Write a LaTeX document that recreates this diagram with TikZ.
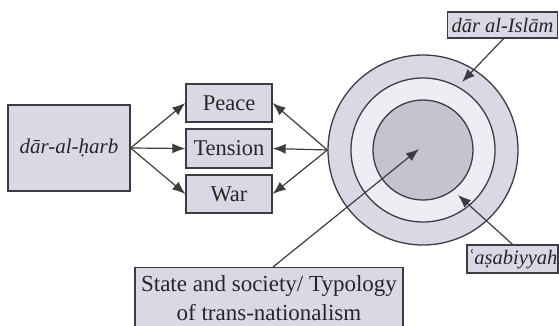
\documentclass[tikz,border=0pt]{standalone}
\usepackage{fontspec}
\setmainfont{Liberation Serif}
\usetikzlibrary{arrows.meta}
\definecolor{boxfill}{HTML}{D9D9E6}
\definecolor{ringmid}{HTML}{EDEDF3}
\definecolor{ringin}{HTML}{C4C4CE}
\definecolor{edge}{HTML}{3C3C42}
\begin{document}
\begin{tikzpicture}[x=1pt,y=-1pt,
  box/.style={draw=edge,line width=1.3pt,fill=boxfill,rectangle,inner sep=0pt,
    font=\fontsize{22.5}{29}\selectfont,text=black!85},
  itbox/.style={box,font=\fontsize{20.5}{26}\selectfont\itshape},
  ring/.style={draw=edge,line width=1.3pt,circle,inner sep=0pt},
  arr/.style={draw=edge,line width=1.2pt,-{Latex[length=13pt,width=10pt]}}]
\useasboundingbox (0,0) rectangle (559,325);
% circles
\node[ring,fill=boxfill,minimum size=190] (outer) at (423,150) {};
\node[ring,fill=ringmid,minimum size=144] (mid) at (423,150) {};
\node[ring,fill=ringin,minimum size=100] (inner) at (423,150) {};
\coordinate (ctr) at (419,149);
% boxes
\node[itbox,font=\fontsize{21}{26}\selectfont\itshape,minimum width=122,minimum height=86] (harb) at (69,148) {dār-al-ḥarb};
\node[box,minimum width=86,minimum height=38] (peace) at (229,103) {Peace};
\node[box,minimum width=86,minimum height=39] (tension) at (229,148.5) {Tension};
\node[box,minimum width=86,minimum height=38] (war) at (229,194) {War};
\node[itbox,minimum width=110,minimum height=26] (islam) at (502.5,25) {dār al-Islām};
\node[itbox,minimum width=91,minimum height=28] (asab) at (512.5,259) {ʿaṣabiyyah};
\node[box,font=\fontsize{23}{29}\selectfont,minimum width=268,minimum height=60,anchor=north,align=center] (state) at (269,267) {State and society/ Typology\\of trans-nationalism};
% connectors
\coordinate (islamtip) at (462,82);
\coordinate (asabtip) at (458,195);
\draw[arr] (harb.east) -- (peace.west);
\draw[arr] (harb.east) -- (tension.west);
\draw[arr] (harb.east) -- (war.west);
\draw[arr] (outer.west) -- (peace.east);
\draw[arr] (outer.west) -- (tension.east);
\draw[arr] (outer.west) -- (war.east);
\draw[arr] ([xshift=1pt]islam.south) -- (islamtip);
\draw[arr] (asab.north) -- (asabtip);
\draw[arr] ([xshift=4pt]state.north) -- (ctr);
\end{tikzpicture}
\end{document}
